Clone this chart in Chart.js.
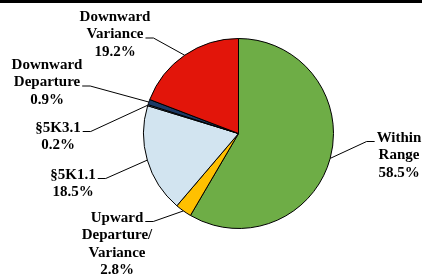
<!DOCTYPE html>
<html>
<head>
<meta charset="utf-8">
<script src="https://cdn.jsdelivr.net/npm/chart.js@4"></script>
<style>
  html, body { margin: 0; padding: 0; background: #fff; }
  canvas { display: block; }
</style>
</head>
<body>
<canvas id="pieChart" width="422" height="279"></canvas>
<script>
// slices go clockwise from 12 o'clock
var categories = [
    ['Within', 'Range'],
    ['Upward', 'Departure/', 'Variance'],
    ['\u00a75K1.1'],
    ['\u00a75K3.1'],
    ['Downward', 'Departure'],
    ['Downward', 'Variance']
];
var shares = [58.5, 2.8, 18.5, 0.2, 0.9, 19.2];
var sliceColors = ['#6EAD46', '#FFC000', '#D2E4F0', '#8EA9C8', '#1B3A66', '#E2150A'];

// where each label block sits, and which line the leader leaves from
var labelSpots = [
    { x: 399, y: 138, line: 0, side: 'left' },
    { x: 117, y: 218, line: 0, side: 'right' },
    { x: 73, y: 175, line: 0, side: 'right' },
    { x: 58, y: 128, line: 0, side: 'right' },
    { x: 47, y: 65, line: 1, side: 'right' },
    { x: 115, y: 17, line: 1, side: 'right' }
];

var FONT = 'bold 15px "Liberation Serif", "Times New Roman", serif';
var LINE_H = 17.5;

var labelPlugin = {
    id: 'sliceLabels',
    beforeDraw: function (chart) {
        var ctx = chart.ctx;
        ctx.save();
        ctx.fillStyle = '#000';
        ctx.fillRect(0, 0, chart.width, 3);
        ctx.restore();
    },
    afterDraw: function (chart) {
        var ctx = chart.ctx;
        var arcs = chart.getDatasetMeta(0).data;
        ctx.save();
        ctx.font = FONT;
        ctx.fillStyle = '#000';
        ctx.textAlign = 'center';
        ctx.textBaseline = 'middle';
        ctx.strokeStyle = '#000';
        ctx.lineWidth = 1;

        arcs.forEach(function (arc, i) {
            var spot = labelSpots[i];
            var lines = categories[i].concat([shares[i].toFixed(1) + '%']);
            lines.forEach(function (t, k) {
                ctx.fillText(t, spot.x, spot.y + k * LINE_H);
            });

            var w = ctx.measureText(lines[spot.line]).width;
            var ly = spot.y + spot.line * LINE_H + 3.5;
            var lx = spot.side === 'right' ? spot.x + w / 2 + 2 : spot.x - w / 2 - 2;
            var ex = spot.side === 'right' ? lx + 8 : lx - 8;

            var p = arc.getProps(['x', 'y', 'startAngle', 'endAngle', 'outerRadius'], true);
            var mid = (p.startAngle + p.endAngle) / 2;
            var px = p.x + Math.cos(mid) * p.outerRadius;
            var py = p.y + Math.sin(mid) * p.outerRadius;

            ctx.beginPath();
            ctx.moveTo(lx, ly);
            ctx.lineTo(ex, ly);
            ctx.lineTo(px, py);
            ctx.stroke();
        });
        ctx.restore();
    }
};

new Chart(document.getElementById('pieChart').getContext('2d'), {
    type: 'pie',
    data: {
        labels: categories,
        datasets: [{
            data: shares,
            backgroundColor: sliceColors,
            borderColor: '#000',
            borderWidth: 1
        }]
    },
    options: {
        responsive: false,
        animation: false,
        layout: {
            padding: { left: 143, right: 88, top: 38, bottom: 50 }
        },
        plugins: {
            legend: { display: false },
            tooltip: { enabled: false }
        }
    },
    plugins: [labelPlugin]
});
</script>
</body>
</html>
